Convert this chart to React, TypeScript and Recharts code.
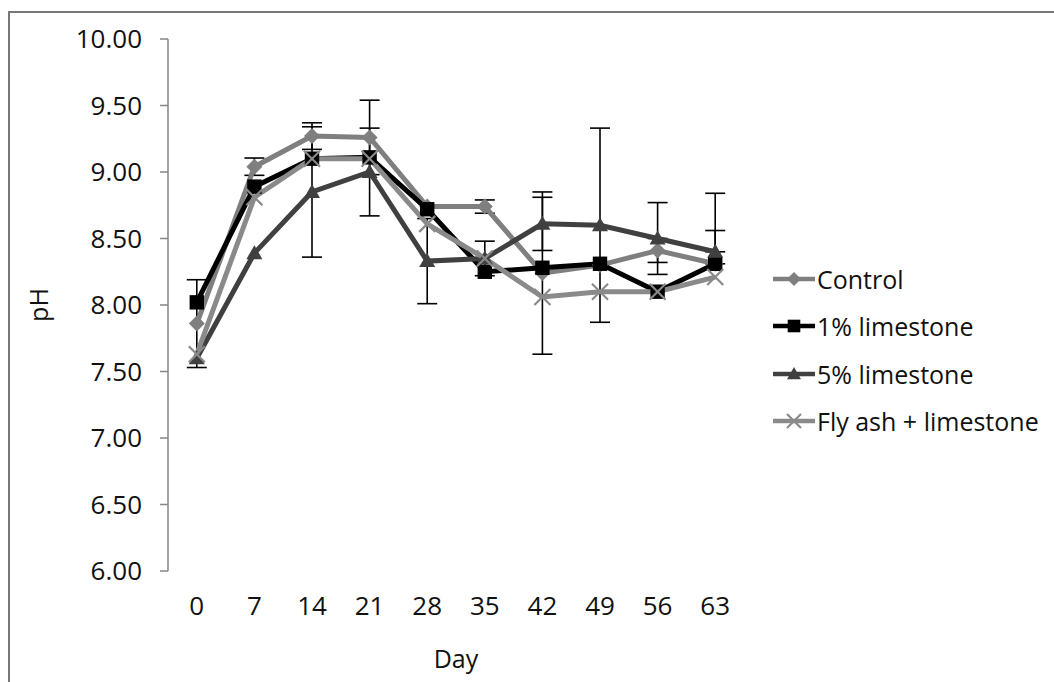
import React from "react";
import { LineChart, Line, XAxis, YAxis, ErrorBar } from "recharts";

// Sampling days
const days = [0, 7, 14, 21, 28, 35, 42, 49, 56, 63];

// pH per treatment
const control = [7.86, 9.04, 9.27, 9.26, 8.74, 8.74, 8.24, 8.3, 8.41, 8.31];
const lime1 = [8.02, 8.89, 9.1, 9.11, 8.72, 8.25, 8.28, 8.31, 8.1, 8.31];
const lime5 = [7.6, 8.39, 8.85, 9.0, 8.33, 8.35, 8.61, 8.6, 8.5, 8.4];
const flyAsh = [7.63, 8.81, 9.1, 9.1, 8.61, 8.35, 8.06, 8.1, 8.1, 8.21];

// error bars (symmetric value, or [minus, plus])
const controlErr = [0.33, 0.065, 0.1, 0.28, null, 0.05, 0.61, null, 0.09, [0, 0.25]];
const lime5Err = [null, null, 0.49, 0.33, 0.32, 0.13, 0.2, 0.73, 0.27, [0, 0.44]];

const yTicks = [6, 6.5, 7, 7.5, 8, 8.5, 9, 9.5, 10];

const data = days.map((day, i) => ({
  day,
  control: control[i],
  lime1: lime1[i],
  lime5: lime5[i],
  flyAsh: flyAsh[i],
  controlErr: controlErr[i] ?? undefined,
  lime5Err: lime5Err[i] ?? undefined,
}));

// Excel-style tick marks sit between categories
const halfStep = (days[1] - days[0]) / 2;
const boundaries = [...days.map((d) => d - halfStep), days[days.length - 1] + halfStep];
const xDomain = [boundaries[0], boundaries[boundaries.length - 1]];

const FONT = '"Open Sans", sans-serif';
const FS = 25;
const AXIS = "#868686";
const TEXT = "#111";

const series = [
  { key: "control", name: "Control", color: "#7f7f7f", shape: "diamond" },
  { key: "lime1", name: "1% limestone", color: "#000000", shape: "square" },
  { key: "lime5", name: "5% limestone", color: "#404040", shape: "triangle" },
  { key: "flyAsh", name: "Fly ash + limestone", color: "#8a8a8a", shape: "x" },
];

function Marker({ shape, cx, cy, size, color }: any) {
  const h = size / 2;
  if (shape === "diamond")
    return (
      <polygon
        points={`${cx},${cy - h} ${cx + h},${cy} ${cx},${cy + h} ${cx - h},${cy}`}
        fill={color}
      />
    );
  if (shape === "square")
    return <rect x={cx - h * 0.9} y={cy - h * 0.9} width={size * 0.9} height={size * 0.9} fill={color} />;
  if (shape === "triangle")
    return (
      <polygon
        points={`${cx},${cy - h} ${cx + h},${cy + h * 0.75} ${cx - h},${cy + h * 0.75}`}
        fill={color}
      />
    );
  return (
    <g stroke={color} strokeWidth={2.2}>
      <line x1={cx - h} y1={cy - h} x2={cx + h} y2={cy + h} />
      <line x1={cx - h} y1={cy + h} x2={cx + h} y2={cy - h} />
    </g>
  );
}

function Legend() {
  return (
    <div style={{ position: "absolute", left: 773, top: 255, fontFamily: FONT, fontSize: FS, color: TEXT }}>
      {series.map((s) => (
        <div key={s.key} style={{ display: "flex", alignItems: "center", height: 47.5 }}>
          <svg width={42} height={20} style={{ marginRight: 2 }}>
            <line x1={0} y1={10} x2={42} y2={10} stroke={s.color} strokeWidth={4.5} />
            <Marker shape={s.shape} cx={21} cy={10} size={14} color={s.color} />
          </svg>
          <span>{s.name}</span>
        </div>
      ))}
    </div>
  );
}

export default function App() {
  return (
    <div style={{ position: "absolute", left: 0, top: 0, width: 1054, height: 682, background: "#fff", overflow: "hidden" }}>
      <div
        style={{
          position: "absolute",
          left: 8,
          top: 11,
          right: 0,
          bottom: 0,
          borderTop: "2px solid #777",
          borderLeft: "2px solid #777",
        }}
      />
      <LineChart
        width={1054}
        height={682}
        data={data}
        margin={{ top: 39, right: 310, left: 0, bottom: 0 }}
        style={{ position: "absolute", left: 0, top: 0 }}
      >
        <XAxis
          xAxisId="grid"
          type="number"
          dataKey="day"
          domain={xDomain}
          ticks={boundaries}
          tickFormatter={() => ""}
          tickSize={9}
          height={0}
          stroke={AXIS}
          strokeWidth={1.5}
        />
        <XAxis
          xAxisId="days"
          type="number"
          dataKey="day"
          domain={xDomain}
          ticks={days}
          tickSize={0}
          tickMargin={26}
          axisLine={false}
          tickLine={false}
          height={111}
          tick={{ fill: TEXT, fontSize: 26, fontFamily: FONT }}
          label={{ value: "Day", position: "insideBottom", offset: 14, fill: TEXT, fontSize: FS, fontFamily: FONT }}
        />
        <YAxis
          type="number"
          domain={[6, 10]}
          ticks={yTicks}
          tickFormatter={(v) => v.toFixed(2)}
          width={168}
          tickSize={8}
          tickMargin={18}
          stroke={AXIS}
          strokeWidth={1.5}
          tick={{ fill: TEXT, fontSize: 26, fontFamily: FONT }}
          label={({ viewBox }: any) => (
            <text
              x={viewBox.x + 38}
              y={viewBox.y + viewBox.height / 2}
              transform={`rotate(-90 ${viewBox.x + 38} ${viewBox.y + viewBox.height / 2})`}
              textAnchor="middle"
              dominantBaseline="central"
              fill={TEXT}
              fontSize={FS}
              fontFamily={FONT}
            >
              pH
            </text>
          )}
        />
        {series.map((s) => (
          <Line
            key={s.key}
            xAxisId="days"
            dataKey={s.key}
            stroke={s.color}
            strokeWidth={5}
            isAnimationActive={false}
            activeDot={false}
            dot={(p: any) => (
              <Marker key={`${s.key}-${p.index}`} shape={s.shape} cx={p.cx} cy={p.cy} size={16} color={s.color} />
            )}
          >
            {s.key === "control" && (
              <ErrorBar dataKey="controlErr" width={10} stroke="#000" strokeWidth={1.6} isAnimationActive={false} />
            )}
            {s.key === "lime5" && (
              <ErrorBar dataKey="lime5Err" width={10} stroke="#000" strokeWidth={1.6} isAnimationActive={false} />
            )}
          </Line>
        ))}
      </LineChart>
      <Legend />
    </div>
  );
}
